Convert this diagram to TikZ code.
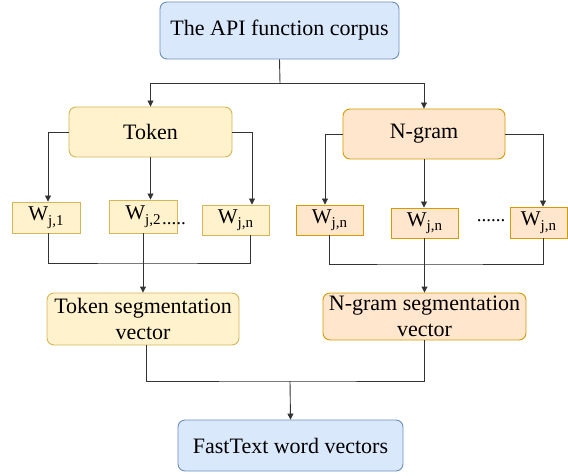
\documentclass[tikz,border=0pt]{standalone}
\usepackage{fontspec}
\setmainfont{Liberation Serif}
\usetikzlibrary{arrows.meta,calc}
\definecolor{bfill}{HTML}{DAE8FC}
\definecolor{bline}{HTML}{6C8EBF}
\definecolor{yfill}{HTML}{FFF2CC}
\definecolor{yline}{HTML}{D6B656}
\definecolor{ofill}{HTML}{FFE6CC}
\definecolor{oline}{HTML}{D79B00}
\definecolor{linec}{HTML}{333333}
\newcommand\wsub[1]{W\raisebox{-4.5pt}{\fontsize{15}{15}\selectfont #1}}
\begin{document}
\begin{tikzpicture}[x=1pt,y=-1pt,
  box/.style={draw, rounded corners=7pt, line width=0.9pt, inner sep=0pt, align=center, font=\fontsize{22}{26}\selectfont},
  bluebox/.style={box, fill=bfill, draw=bline},
  ybox/.style={box, fill=yfill, draw=yline},
  obox/.style={box, fill=ofill, draw=oline},
  wbox/.style={draw, line width=0.9pt, inner sep=0pt, font=\fontsize{21}{24}\selectfont},
  ywbox/.style={wbox, fill=yfill, draw=yline},
  owbox/.style={wbox, fill=ofill, draw=oline},
  dots/.style={inner sep=0pt, font=\fontsize{19}{19}\selectfont},
  conn/.style={draw=linec, line width=0.9pt},
  arr/.style={conn, -{Triangle[length=6pt,width=6pt]}}]
\useasboundingbox (0,0) rectangle (568,476);

% main boxes
\node[bluebox, minimum width=239pt, minimum height=57pt] (top) at (279.5,30.5) {The API function corpus};
\node[ybox, minimum width=163pt, minimum height=50pt] (token) at (150.5,132) {Token};
\node[obox, minimum width=162pt, minimum height=50pt] (ngram) at (424,134) {N-gram};

% token words
\node[ywbox, minimum width=68pt, minimum height=31pt] (w1) at (46,217.5) {\wsub{j,1}};
\node[ywbox, minimum width=68pt, minimum height=33pt] (w2) at (143,216.5) {\wsub{j,2}};
\node[ywbox, minimum width=67pt, minimum height=30pt] (w3) at (235.5,220) {\wsub{j,n}};
\node[dots, anchor=west] (d1) at (162,224) {.....};

% n-gram words
\node[owbox, minimum width=67pt, minimum height=30pt] (n1) at (329.5,220) {\wsub{j,n}};
\node[owbox, minimum width=67pt, minimum height=30pt] (n2) at (424.5,223) {\wsub{j,n}};
\node[owbox, minimum width=57pt, minimum height=31pt] (n3) at (538.5,222.5) {\wsub{j,n}};
\node[dots] (d2) at (491,221) {......};

% segmentation vectors
\node[ybox, minimum width=192pt, minimum height=52pt] (tseg) at (143,319) {Token segmentation\\vector};
\node[obox, minimum width=203pt, minimum height=47pt] (nseg) at (424.5,316.5) {N-gram segmentation\\vector};

% output
\node[bluebox, minimum width=225pt, minimum height=51pt] (fast) at (290.5,445.5) {FastText word vectors};

% junction coordinates
\coordinate (jtop) at (280,83);
\coordinate (jt) at (146,263);
\coordinate (jn) at (424,264);
\coordinate (jb) at (290,381);

% top split
\draw[conn] (top.south) -- (jtop);
\draw[arr] (jtop) -| (token.north);
\draw[arr] (jtop) -| (ngram.north);

% token branches
\draw[arr] (token.west) -| ([xshift=2pt]w1.north);
\draw[arr] (token.south) -- (token.south |- w2.north);
\draw[arr] (token.east) -| ([xshift=16.5pt]w3.north);

% ngram branches
\draw[arr] (ngram.west) -| ([xshift=-4.5pt]n1.north);
\draw[arr] (ngram.south) -- (ngram.south |- n2.north);
\draw[arr] (ngram.east) -| ([xshift=4.5pt]n3.north);

% token merge
\draw[conn] ([xshift=2pt]w1.south) |- (jt) -| ([xshift=14.5pt]w3.south);
\draw[arr] (w2.south) -- (tseg.north);

% ngram merge
\draw[conn] ([xshift=-0.5pt]n1.south) |- (jn) -| ([xshift=4.5pt]n3.south);
\draw[arr] (n2.south) -- (nseg.north);

% final merge
\draw[conn] ([xshift=3pt]tseg.south) |- (jb) -| (nseg.south);
\draw[arr] (jb) -- (fast.north);
\end{tikzpicture}
\end{document}
